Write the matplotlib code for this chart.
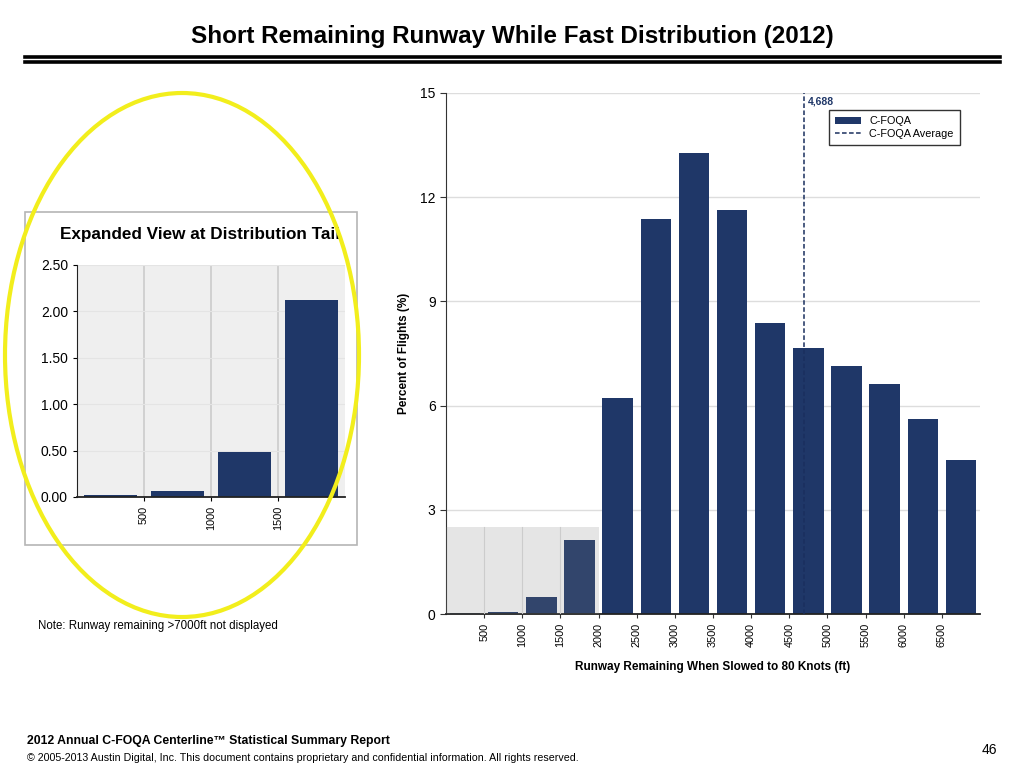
import numpy as np
import matplotlib
matplotlib.use("Agg")
import matplotlib.pyplot as plt
from matplotlib.patches import Rectangle, Ellipse
from matplotlib.lines import Line2D

plt.rcParams['font.family'] = ['Liberation Sans', 'DejaVu Sans']

# bins of runway remaining (ft), upper edges
bin_edges = [0, 500, 1000, 1500, 2000, 2500, 3000, 3500, 4000, 4500,
             5000, 5500, 6000, 6500, 7000]
pct_flights = [0.02, 0.07, 0.49, 2.12, 6.22, 11.36, 13.27, 11.63, 8.38,
               7.66, 7.14, 6.61, 5.62, 4.44]
avg_runway = 4688
main_ticks = [500, 1000, 1500, 2000, 2500, 3000, 3500, 4000, 4500,
              5000, 5500, 6000, 6500]
main_yticks = [0, 3, 6, 9, 12, 15]

tail_n = 4
tail_ticks = [500, 1000, 1500]
tail_yticks = [0.0, 0.5, 1.0, 1.5, 2.0, 2.5]

navy = '#1f3768'
centers = np.array(bin_edges[:-1]) + 250

fig = plt.figure(figsize=(10.24, 7.68), dpi=100)

# main chart
ax = fig.add_axes([446/1024, 1-614/768, 534/1024, 521/768])
bars = ax.bar(centers, pct_flights, width=400, color=navy, zorder=2)
avg_line = ax.axvline(avg_runway, color='#1a2f5e', ls=(0, (3, 1.6)), lw=1.1,
                      zorder=4)
ax.text(avg_runway + 60, 14.9, f"{avg_runway:,}", color=navy, fontsize=7.5,
        fontweight='bold', va='top', ha='left')
# shaded tail region
ax.add_patch(Rectangle((0, 0), 2000, 2.5, facecolor='#808080', alpha=0.2,
                       edgecolor='none', zorder=3))
for xv in tail_ticks:
    ax.plot([xv, xv], [0, 2.5], color='#cccccc', lw=0.8, zorder=3)
ax.set_xlim(0, 7000)
ax.set_ylim(0, 15)
ax.set_yticks(main_yticks)
ax.set_xticks(main_ticks)
ax.set_xticklabels([str(t) for t in main_ticks], rotation=90, fontsize=7.8)
ax.tick_params(axis='y', labelsize=10, length=4, color='#333333')
ax.tick_params(axis='x', length=3, color='#333333')
ax.grid(axis='y', color='#dddddd', lw=1, zorder=0)
for s in ['top', 'right']:
    ax.spines[s].set_visible(False)
ax.spines['left'].set_color('#333333')
ax.spines['bottom'].set_color('#222222')
ax.spines['bottom'].set_linewidth(1.3)
ax.set_ylabel('Percent of Flights (%)', fontsize=8.5, fontweight='bold',
              labelpad=7)
ax.set_xlabel('Runway Remaining When Slowed to 80 Knots (ft)', fontsize=8.5,
              fontweight='bold', labelpad=10)
leg = ax.legend([bars, avg_line], ['C-FOQA', 'C-FOQA Average'],
                loc='upper right', bbox_to_anchor=(0.972, 0.977), fontsize=7.8,
                frameon=True, fancybox=False, edgecolor='black',
                handlelength=2.4, borderpad=0.55, labelspacing=0.25)
leg.get_frame().set_linewidth(1.0)

# expanded view of the tail
fig.add_artist(Rectangle((25/1024, 1-545/768), 332/1024, 333/768,
                         transform=fig.transFigure, facecolor='white',
                         edgecolor='#b5b5b5', lw=1.2, zorder=0))
ax2 = fig.add_axes([77/1024, 1-497/768, 268/1024, 232/768])
ax2.set_facecolor('#efefef')
ax2.bar(centers[:tail_n], pct_flights[:tail_n], width=400, color=navy, zorder=2)
ax2.set_xlim(0, 2000)
ax2.set_ylim(0, 2.5)
ax2.set_yticks(tail_yticks)
ax2.set_yticklabels([f"{v:.2f}" for v in tail_yticks])
ax2.set_xticks(tail_ticks)
ax2.set_xticklabels([str(t) for t in tail_ticks], rotation=90, fontsize=7.8)
ax2.tick_params(axis='y', labelsize=10, length=3)
ax2.tick_params(axis='x', length=3)
ax2.grid(axis='x', color='#cccccc', lw=1.2, zorder=0)
ax2.grid(axis='y', color='#e4e4e4', lw=0.8, zorder=0)
for s in ['top', 'right']:
    ax2.spines[s].set_visible(False)
ax2.spines['left'].set_color('#222222')
ax2.spines['bottom'].set_color('#222222')
ax2.spines['bottom'].set_linewidth(1.3)
fig.text(200/1024, 1-234/768, 'Expanded View at Distribution Tail',
         fontsize=12.3, fontweight='bold', ha='center', va='center')

# highlight ellipse
fig.add_artist(Ellipse((182/1024, 1-355/768), 354/1024, 524/768,
                       transform=fig.transFigure, facecolor='none',
                       edgecolor='#f2ee1c', lw=3, zorder=10))

fig.text(38/1024, 1-626/768, 'Note: Runway remaining >7000ft not displayed',
         fontsize=8.3, va='center')

# title and rules
fig.text(512/1024, 1-36/768, 'Short Remaining Runway While Fast Distribution (2012)',
         fontsize=17.5, fontweight='bold', ha='center', va='center')
for yy in [57, 62]:
    fig.add_artist(Line2D([25/1024, 1000/1024], [1-yy/768, 1-yy/768],
                          transform=fig.transFigure, color='black', lw=2.6))

# footer
fig.text(27/1024, 1-741/768, '2012 Annual C-FOQA Centerline\u2122 Statistical Summary Report',
         fontsize=8.8, fontweight='bold', va='center')
fig.text(27/1024, 1-758/768, '\u00a9 2005-2013 Austin Digital, Inc. This document contains '
         'proprietary and confidential information. All rights reserved.',
         fontsize=7.7, va='center')
fig.text(997/1024, 1-750/768, '46', fontsize=10, ha='right', va='center')

fig.savefig('out.png', dpi=100)
